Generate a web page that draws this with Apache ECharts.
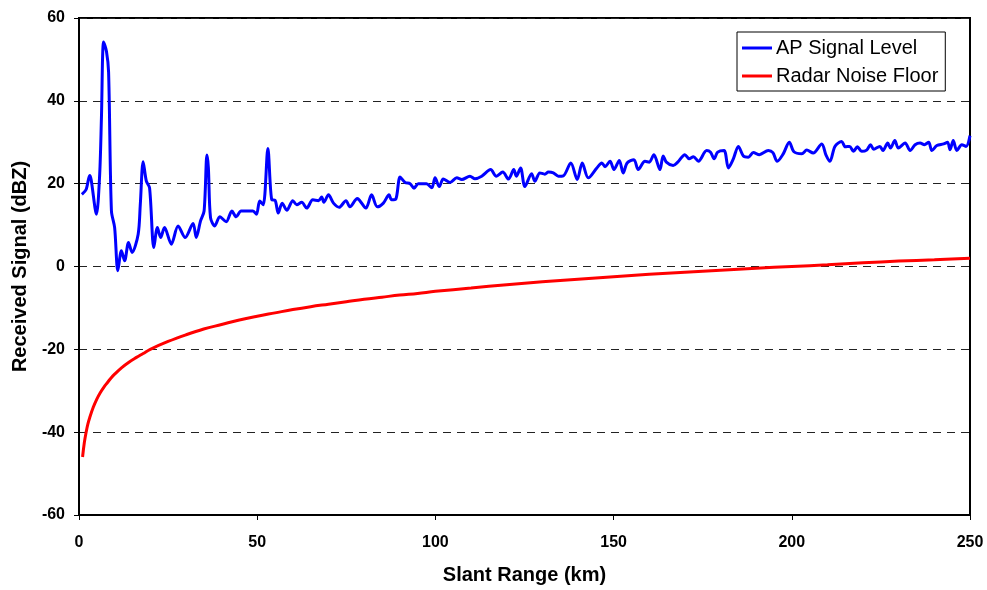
<!DOCTYPE html>
<html>
<head>
<meta charset="utf-8">
<script src="https://cdn.jsdelivr.net/npm/echarts@6/dist/echarts.min.js"></script>
<style>
  html, body { margin: 0; padding: 0; background: #fff; }
  #chart { width: 987px; height: 590px; }
</style>
</head>
<body>
<div id="chart"></div>
<script>
// Slant range (km) and received AP signal level (dBZ)
const apRange = [0.8, 2.0, 3.0, 3.4, 4.9, 5.8, 6.3, 6.9, 7.7, 8.3, 9.1, 10.0, 10.9, 11.9, 12.8, 13.9, 14.9, 16.6, 17.2, 18.0, 18.9, 19.8, 21.0, 22.0, 22.9, 24.0, 25.9, 27.8, 29.8, 32.0, 32.9, 34.1, 35.1, 35.9, 36.3, 36.9, 38.1, 39.5, 41.3, 42.9, 44.1, 45.5, 48.8, 49.8, 50.7, 51.7, 53.0, 54.1, 55.0, 55.9, 57.0, 58.3, 60.0, 61.1, 62.5, 63.9, 65.6, 67.2, 68.1, 68.7, 70.0, 71.4, 73.0, 74.9, 76.0, 78.1, 78.8, 80.5, 82.1, 83.7, 85.4, 87.0, 87.7, 88.9, 90.1, 91.5, 92.9, 94.0, 95.2, 97.5, 99.0, 99.9, 101.1, 102.2, 104.1, 106.0, 107.4, 109.7, 111.1, 113.0, 115.5, 117.1, 118.9, 120.5, 122.0, 122.7, 123.9, 125.1, 127.0, 127.9, 129.3, 130.7, 131.7, 133.1, 134.5, 135.9, 138.0, 139.8, 141.2, 142.9, 145.3, 146.7, 147.6, 149.0, 150.1, 151.6, 152.7, 153.8, 155.7, 156.9, 158.8, 160.0, 161.3, 163.0, 163.9, 164.8, 166.7, 168.0, 170.0, 171.2, 172.4, 173.8, 176.1, 177.2, 178.2, 179.2, 181.0, 182.2, 183.6, 185.0, 186.4, 187.8, 189.2, 190.9, 193.4, 194.7, 195.9, 197.6, 199.3, 200.6, 202.8, 204.2, 206.0, 208.4, 209.6, 210.7, 212.1, 214.0, 215.0, 216.2, 217.3, 218.4, 219.6, 221.0, 222.1, 223.0, 224.7, 225.6, 226.9, 227.7, 228.9, 229.9, 231.8, 233.2, 234.6, 236.0, 237.2, 238.4, 239.3, 240.7, 242.6, 243.7, 244.4, 245.3, 246.3, 247.7, 248.9, 250.0];
const apSignal = [17.4, 18.6, 22.0, 21.0, 12.6, 22.2, 36.0, 54.2, 52.0, 47.0, 13.4, 9.4, -1.0, 3.8, 1.4, 5.8, 3.4, 7.8, 15.0, 25.3, 20.6, 19.0, 4.6, 9.4, 7.0, 9.4, 5.4, 9.8, 7.0, 10.4, 7.0, 11.0, 13.4, 26.9, 23.9, 11.8, 9.8, 12.0, 10.8, 13.4, 12.0, 13.4, 13.4, 12.6, 15.8, 14.9, 28.5, 16.1, 16.0, 12.9, 15.3, 13.6, 15.9, 14.9, 15.5, 14.1, 16.1, 15.9, 16.8, 15.5, 17.3, 15.3, 14.3, 15.9, 14.4, 16.4, 15.9, 14.1, 17.3, 14.4, 15.3, 17.3, 16.1, 16.3, 21.6, 20.3, 20.0, 18.9, 20.0, 20.0, 19.0, 21.4, 19.3, 21.1, 20.3, 21.4, 21.0, 21.8, 21.2, 21.8, 23.4, 21.8, 22.8, 21.1, 23.4, 21.8, 23.8, 19.3, 22.4, 20.6, 22.6, 22.3, 22.8, 22.6, 21.8, 21.9, 25.0, 21.0, 25.0, 21.4, 23.8, 25.0, 24.1, 25.4, 23.4, 25.6, 22.6, 25.0, 25.8, 23.4, 25.4, 25.2, 27.0, 23.4, 26.7, 25.2, 24.4, 25.2, 27.0, 26.0, 26.5, 25.4, 28.0, 27.6, 26.0, 27.6, 28.0, 23.8, 26.0, 29.0, 26.7, 26.4, 27.5, 27.0, 28.0, 27.5, 25.4, 27.2, 30.0, 27.7, 27.2, 28.1, 27.4, 29.6, 26.9, 25.4, 29.0, 30.2, 28.9, 29.0, 27.8, 28.9, 27.8, 28.1, 29.4, 28.3, 29.0, 28.0, 29.8, 28.6, 30.4, 28.6, 29.8, 28.0, 29.4, 29.8, 29.4, 30.0, 28.0, 29.2, 29.6, 30.0, 28.2, 30.4, 28.0, 29.4, 29.0, 31.6];

// Slant range (km) and radar noise floor (dBZ)
const noiseRange = [1, 1.5, 2, 2.5, 3, 4, 5, 6, 7, 8, 9, 10, 12, 14, 16, 18, 20, 25, 30, 35, 40, 45, 50, 55, 60, 65, 70, 75, 80, 85, 90, 95, 100, 110, 120, 130, 140, 150, 160, 170, 180, 190, 200, 210, 220, 230, 240, 250];
const noiseFloor = [-46, -42.5, -40, -38, -36.5, -34, -32, -30.4, -29.1, -28, -26.9, -26, -24.4, -23.1, -22, -21, -20, -18.1, -16.5, -15.1, -14, -12.9, -12, -11.2, -10.4, -9.7, -9.1, -8.5, -7.9, -7.4, -6.9, -6.5, -6, -5.2, -4.4, -3.7, -3.1, -2.5, -1.9, -1.4, -0.9, -0.4, 0, 0.4, 0.9, 1.3, 1.6, 2];

const xTicks = [0, 50, 100, 150, 200, 250];
const yTicks = [-60, -40, -20, 0, 20, 40, 60];

const FONT = '"Liberation Sans", Arial, sans-serif';

const pairs = (xs, ys) => xs.map((x, i) => [x, ys[i]]);

const chart = echarts.init(document.getElementById('chart'), null, { renderer: 'canvas' });

chart.setOption({
  animation: false,
  backgroundColor: '#fff',
  textStyle: { fontFamily: FONT, color: '#000' },
  grid: {
    left: 79, right: 17, top: 18, bottom: 74,
    show: true, borderColor: '#000', borderWidth: 2, backgroundColor: '#fff'
  },
  legend: {
    orient: 'vertical',
    left: 737, top: 32,
    backgroundColor: '#fff',
    borderColor: '#000', borderWidth: 1,
    padding: [6, 7, 5, 5],
    itemGap: 8,
    itemWidth: 30, itemHeight: 3,
    icon: 'rect',
    textStyle: { fontFamily: FONT, fontSize: 20, color: '#000', padding: [0, 0, 0, -1] },
    data: ['AP Signal Level', 'Radar Noise Floor']
  },
  xAxis: {
    type: 'value',
    min: xTicks[0], max: xTicks[xTicks.length - 1], interval: 50,
    name: 'Slant Range (km)',
    nameLocation: 'middle', nameGap: 50,
    nameTextStyle: { fontFamily: FONT, fontSize: 20, fontWeight: 'bold', color: '#000' },
    axisLine: { show: true, onZero: false, lineStyle: { color: '#000', width: 2 } },
    axisTick: { show: true, inside: false, length: 5, lineStyle: { color: '#000', width: 1 } },
    axisLabel: { fontFamily: FONT, fontSize: 16, fontWeight: 'bold', color: '#000', margin: 20 },
    splitLine: { show: false }
  },
  yAxis: {
    type: 'value',
    min: yTicks[0], max: yTicks[yTicks.length - 1], interval: 20,
    name: 'Received Signal (dBZ)',
    nameLocation: 'middle', nameGap: 47,
    nameTextStyle: { fontFamily: FONT, fontSize: 20, fontWeight: 'bold', color: '#000' },
    axisLine: { show: true, lineStyle: { color: '#000', width: 2 } },
    axisTick: { show: true, inside: false, length: 5, lineStyle: { color: '#000', width: 1 } },
    axisLabel: { fontFamily: FONT, fontSize: 16, fontWeight: 'bold', color: '#000', margin: 14 },
    splitLine: { show: true, lineStyle: { color: '#222', width: 1, type: [8, 6] } }
  },
  series: [
    {
      name: 'AP Signal Level',
      type: 'line',
      data: pairs(apRange, apSignal),
      smooth: 0.3,
      showSymbol: false,
      symbol: 'none',
      lineStyle: { color: '#0000ff', width: 3 },
      itemStyle: { color: '#0000ff' },
      z: 3
    },
    {
      name: 'Radar Noise Floor',
      type: 'line',
      data: pairs(noiseRange, noiseFloor),
      smooth: 0.4,
      showSymbol: false,
      symbol: 'none',
      lineStyle: { color: '#ff0000', width: 3 },
      itemStyle: { color: '#ff0000' },
      z: 3
    }
  ]
});
</script>
</body>
</html>
